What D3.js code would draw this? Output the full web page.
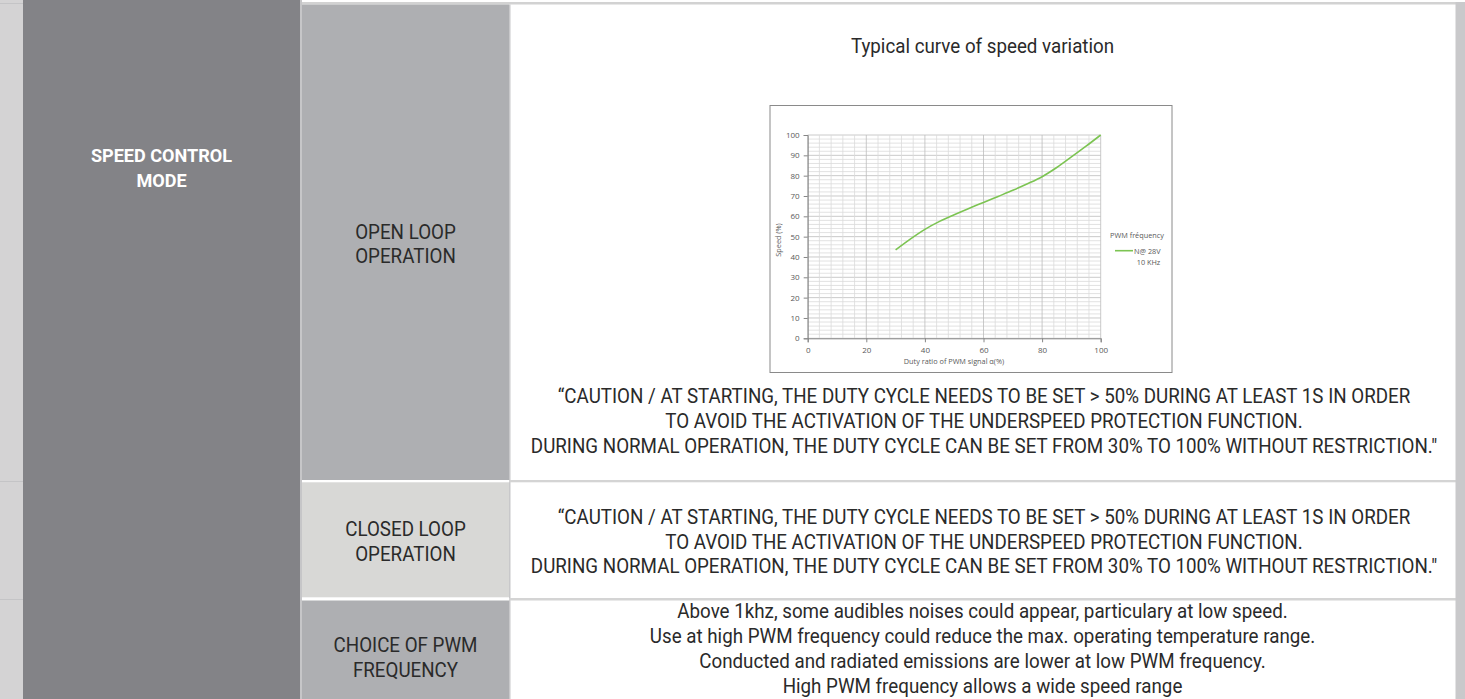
<!DOCTYPE html>
<html><head><meta charset="utf-8">
<script src="https://cdn.jsdelivr.net/npm/d3@7/dist/d3.min.js"></script>
<style>
html,body{margin:0;padding:0;background:#fff;overflow:hidden}
svg{display:block}
</style></head>
<body>
<svg id="c" width="1465" height="699"></svg>
<script>
// ---- data ----
const dutyRatio = [30, 35, 40, 45, 50, 55, 60, 65, 70, 75, 80, 85, 90, 95, 100];
const speedPct  = [43.5, 48.8, 53.6, 57.5, 60.8, 63.9, 66.8, 69.8, 72.8, 76, 79.5, 84, 89.2, 94.5, 100];
const xTicks = [0, 20, 40, 60, 80, 100];
const yTicks = [0, 10, 20, 30, 40, 50, 60, 70, 80, 90, 100];
const chartTitle = "Typical curve of speed variation";
const xTitle = "Duty ratio of PWM signal \u03b1(%)";
const yTitle = "Speed (%)";
const legendTitle = "PWM fr\u00e9quency";
const seriesName = ["N@ 28V", "10 KHz"];
const leftLabel = ["SPEED CONTROL", "MODE"];
const rowLabels = [["OPEN LOOP", "OPERATION"], ["CLOSED LOOP", "OPERATION"], ["CHOICE OF PWM", "FREQUENCY"]];
const cautionLines = [
  "\u201cCAUTION / AT STARTING, THE DUTY CYCLE NEEDS TO BE SET > 50% DURING AT LEAST 1S IN ORDER",
  "TO AVOID THE ACTIVATION OF THE UNDERSPEED PROTECTION FUNCTION.",
  "DURING NORMAL OPERATION, THE DUTY CYCLE CAN BE SET FROM 30% TO 100% WITHOUT RESTRICTION.\""
];
const pwmLines = [
  "Above 1khz, some audibles noises could appear, particulary at low speed.",
  "Use at high PWM frequency could reduce the max. operating temperature range.",
  "Conducted and radiated emissions are lower at low PWM frequency.",
  "High PWM frequency allows a wide speed range"
];

const svg = d3.select("#c");
const FONT = "Roboto, 'Noto Sans', sans-serif";
const CH = "'Open Sans', sans-serif";

// ---- table background ----
svg.append("rect").attr("x",0).attr("y",0).attr("width",1465).attr("height",699).attr("fill","#ffffff");
svg.append("rect").attr("x",0).attr("y",0).attr("width",23).attr("height",699).attr("fill","#d4d3d4");
[3, 481, 599].forEach(y => svg.append("rect").attr("x",0).attr("y",y).attr("width",23).attr("height",1).attr("fill","#c4c4c6"));
svg.append("rect").attr("x",23).attr("y",0).attr("width",277).attr("height",699).attr("fill","#838387");
svg.append("rect").attr("x",300).attr("y",0).attr("width",2).attr("height",699).attr("fill","#c6c6c8");
svg.append("rect").attr("x",302).attr("y",2).attr("width",1163).attr("height",2.5).attr("fill","#d2d2d2");
svg.append("rect").attr("x",302).attr("y",4.5).attr("width",207).attr("height",475.5).attr("fill","#aeafb2");
svg.append("rect").attr("x",302).attr("y",482.3).attr("width",207).attr("height",115).attr("fill","#d8d8d6");
svg.append("rect").attr("x",302).attr("y",600.5).attr("width",207).attr("height",99).attr("fill","#aeafb2");
svg.append("rect").attr("x",509).attr("y",4.5).attr("width",1.5).attr("height",699).attr("fill","#c8c8ca");
svg.append("rect").attr("x",509).attr("y",480).attr("width",956).attr("height",2.3).attr("fill","#d4d4d4");
svg.append("rect").attr("x",509).attr("y",598).attr("width",956).attr("height",2.5).attr("fill","#d4d4d4");
svg.append("rect").attr("x",1455.5).attr("y",2).attr("width",9.5).attr("height",697).attr("fill","#c9c9cb");

// ---- text helper: Roboto horizontally condensed ----
const FS = 19.5;
const probe = svg.append("text").attr("font-family",FONT).attr("font-size",FS).text(cautionLines[0]);
const sx = 853 / probe.node().getComputedTextLength();
probe.remove();

function ctext(x, y, str, size, fill, weight){
  svg.append("text")
    .attr("transform", `translate(${x},${y}) scale(${sx},1)`)
    .attr("text-anchor","middle")
    .attr("font-family",FONT)
    .attr("font-size",size)
    .attr("font-weight",weight||400)
    .attr("fill",fill)
    .text(str);
}

leftLabel.forEach((t,i)=>ctext(161.5, 162 + i*25, t, 18.8, "#ffffff", 700));
const rowY = [238.5, 536, 652];
rowLabels.forEach((r,j)=>r.forEach((t,i)=>ctext(405.5, rowY[j] + i*24.7, t, FS, "#2a2a2a", 400)));
ctext(982.5, 53, chartTitle, 19.5, "#2a2a2a", 400);
cautionLines.forEach((t,i)=>ctext(984, 403 + i*25, t, FS, "#2a2a2a", 400));
cautionLines.forEach((t,i)=>ctext(984, 524 + i*24.5, t, FS, "#2a2a2a", 400));
pwmLines.forEach((t,i)=>ctext(982.5, 618 + i*25, t, FS, "#2a2a2a", 400));

// ---- chart ----
const box = {x:770, y:105.5, w:402, h:267};
svg.append("rect").attr("x",box.x).attr("y",box.y).attr("width",box.w).attr("height",box.h)
  .attr("fill","#fff").attr("stroke","#8a8a8a").attr("stroke-width",1);

const x = d3.scaleLinear().domain([0,100]).range([807.7,1100.7]);
const y = d3.scaleLinear().domain([0,100]).range([338.3,135]);
const g = svg.append("g");

d3.range(0,101,2).forEach(v=>{
  g.append("line").attr("x1",x(0)).attr("x2",x(100)).attr("y1",y(v)).attr("y2",y(v))
    .attr("stroke", v%10===0 ? "#bcbcbc" : "#dadada").attr("stroke-width",0.8);
});
d3.range(0,101,4).forEach(v=>{
  g.append("line").attr("y1",y(0)).attr("y2",y(100)).attr("x1",x(v)).attr("x2",x(v))
    .attr("stroke", v%20===0 ? "#bcbcbc" : "#dadada").attr("stroke-width",0.8);
});

const ax = g.append("g").attr("transform",`translate(0,${y(0)})`)
  .call(d3.axisBottom(x).tickValues(xTicks).tickSize(4).tickPadding(6));
const ay = g.append("g").attr("transform",`translate(${x(0)},0)`)
  .call(d3.axisLeft(y).tickValues(yTicks).tickSize(4).tickPadding(4));
[ax,ay].forEach(a=>{
  a.select(".domain").attr("stroke","#868686");
  a.selectAll(".tick line").attr("stroke","#868686");
  a.selectAll(".tick text").attr("fill","#595959").attr("font-family",CH).attr("font-size",8);
});
ax.selectAll(".tick text").attr("dy","0.55em");

g.append("text").attr("x",954).attr("y",363.5).attr("text-anchor","middle")
  .attr("font-family",CH).attr("font-size",7.3).attr("fill","#595959").text(xTitle);
g.append("text").attr("transform","translate(781,240) rotate(-90)").attr("text-anchor","middle")
  .attr("font-family",CH).attr("font-size",7.3).attr("fill","#595959").text(yTitle);

const pts = dutyRatio.map((d,i)=>[d, speedPct[i]]);
g.append("path").datum(pts)
  .attr("d", d3.line().x(d=>x(d[0])).y(d=>y(d[1])).curve(d3.curveCatmullRom.alpha(0.5)))
  .attr("fill","none").attr("stroke","#7cc452").attr("stroke-width",1.6);

g.append("text").attr("x",1137).attr("y",237.5).attr("text-anchor","middle")
  .attr("font-family",CH).attr("font-size",7.3).attr("fill","#595959").text(legendTitle);
g.append("line").attr("x1",1115).attr("x2",1133).attr("y1",250.7).attr("y2",250.7)
  .attr("stroke","#7cc452").attr("stroke-width",1.6);
g.append("text").attr("x",1134).attr("y",253.5)
  .attr("font-family",CH).attr("font-size",7.3).attr("fill","#595959").text(seriesName[0]);
g.append("text").attr("x",1148.5).attr("y",264.5).attr("text-anchor","middle")
  .attr("font-family",CH).attr("font-size",7.3).attr("fill","#595959").text(seriesName[1]);
</script>
</body></html>
